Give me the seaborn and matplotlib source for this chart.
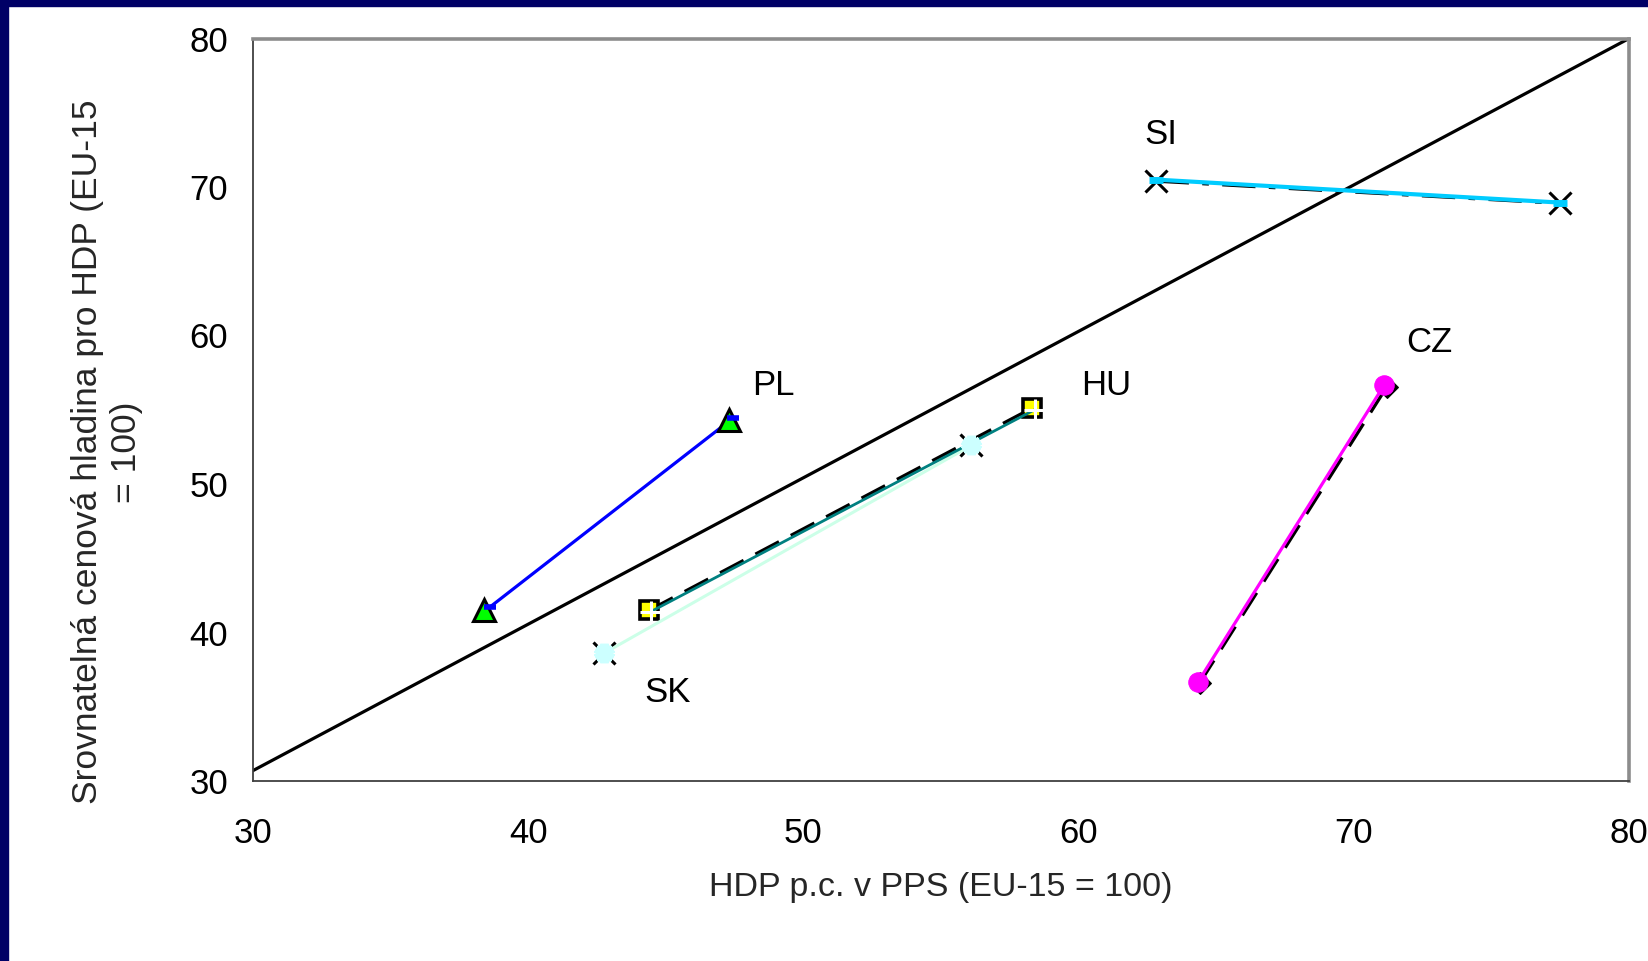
import numpy as np
import pandas as pd
import matplotlib.pyplot as plt
from matplotlib.patches import Rectangle
import seaborn as sns

# data (HDP p.c. in PPS vs. price level, EU-15 = 100)

diag_x = [30, 80]
diag_y = [30.7, 80]

pl_x = [38.4, 47.3]
pl_y = [41.5, 54.3]
pl2_x = [38.6, 47.45]
pl2_y = [41.7, 54.45]

hu_x = [44.4, 58.3]
hu_y = [41.5, 55.1]
hu2_x = [44.45, 58.4]
hu2_y = [41.4, 55.0]

sk_x = [42.75, 56.1]
sk_y = [38.6, 52.6]

si_x = [62.8, 77.5]
si_y = [70.4, 68.9]
si2_x = [62.8, 77.5]
si2_y = [70.5, 68.95]

cz_x = [64.4, 71.2]
cz_y = [36.6, 56.55]
cz2_x = [64.35, 71.1]
cz2_y = [36.7, 56.65]

labels = ['SI', 'PL', 'HU', 'CZ', 'SK']
label_x = [63.0, 48.9, 61.0, 72.75, 45.05]
label_y = [73.55, 56.65, 56.65, 59.55, 35.95]

ticks = [30, 40, 50, 60, 70, 80]

# style

sns.set_style('white')
plt.rcParams['font.family'] = ['Liberation Sans', 'DejaVu Sans']

fig = plt.figure(figsize=(16.48, 9.61), dpi=100)
ax = fig.add_axes([253 / 1648, 1 - 781 / 961, 1376 / 1648, 742.5 / 961])

# navy frame on the left and top
fig.patches.append(Rectangle((0, 0), 8 / 1648, 1, transform=fig.transFigure,
                             color='#000066', zorder=10))
fig.patches.append(Rectangle((0, 1 - 6 / 961), 1, 6 / 961, transform=fig.transFigure,
                             color='#000066', zorder=10))

# diagonal
sns.lineplot(x=diag_x, y=diag_y, ax=ax, color='black', linewidth=2.3, sort=False, zorder=2)

# black dashed base series
sns.lineplot(x=hu_x, y=hu_y, ax=ax, color='black', linewidth=2.4,
             linestyle=(0, (8, 4)), sort=False, zorder=3)
sns.lineplot(x=cz_x, y=cz_y, ax=ax, color='black', linewidth=2.4, linestyle=(0, (8, 4)),
             marker='D', markersize=11, markerfacecolor='black', markeredgecolor='black',
             sort=False, zorder=3)
sns.lineplot(x=si_x, y=si_y, ax=ax, color='black', linewidth=2.4,
             linestyle=(0, (10, 4, 2, 4)), sort=False, zorder=3)

# PL
sns.lineplot(x=pl2_x, y=pl2_y, ax=ax, color='#0000FF', linewidth=2.3, sort=False, zorder=4)
ax.plot(pl_x, pl_y, linestyle='none', marker='^', markersize=16,
        markerfacecolor='#00FF00', markeredgecolor='black', markeredgewidth=2.2, zorder=5)
ax.plot(pl2_x, pl2_y, linestyle='none', marker='_', markersize=9,
        markeredgecolor='#0000FF', markeredgewidth=4, zorder=6)

# HU
ax.plot(hu_x, hu_y, linestyle='none', marker='s', markersize=13.5,
        markerfacecolor='#FFFF00', markeredgecolor='black', markeredgewidth=2.6, zorder=5)
sns.lineplot(x=hu2_x, y=hu2_y, ax=ax, color='#008080', linewidth=2.0,
             marker='+', markersize=16, markeredgewidth=2.2, sort=False, zorder=6)

# SK
ax.plot(sk_x, sk_y, linestyle='none', marker='x', markersize=16,
        markeredgecolor='black', markeredgewidth=2.2, zorder=4)
sns.lineplot(x=sk_x, y=sk_y, ax=ax, color='#CCFFE8', linewidth=2.2, sort=False, zorder=5)
ax.plot(sk_x, sk_y, linestyle='none', marker=(6, 2, 0), markersize=14,
        markeredgecolor='#CCFFFF', markeredgewidth=6, zorder=6)

# SI
ax.plot(si_x, si_y, linestyle='none', marker='x', markersize=16,
        markeredgecolor='black', markeredgewidth=2.2, zorder=4)
sns.lineplot(x=si2_x, y=si2_y, ax=ax, color='#00CCFF', linewidth=3.0, sort=False, zorder=5)
ax.plot(si2_x, si2_y, linestyle='none', marker='_', markersize=10,
        markeredgecolor='#00CCFF', markeredgewidth=5, zorder=6)

# CZ
sns.lineplot(x=cz2_x, y=cz2_y, ax=ax, color='#FF00FF', linewidth=2.3,
             marker='o', markersize=14, markerfacecolor='#FF00FF', markeredgecolor='#FF00FF',
             sort=False, zorder=5)

# country labels
for lab, lx, ly in zip(labels, label_x, label_y):
    ax.text(lx, ly, lab, fontsize=25, ha='center', va='center', color='black')

# axes
ax.set_xlim(30, 80)
ax.set_ylim(30, 80)
ax.set_xticks(ticks)
ax.set_yticks(ticks)
ax.tick_params(axis='both', direction='out', length=7, width=1.2, color='#333333',
               labelsize=25, labelcolor='black')
ax.tick_params(axis='x', pad=19)
ax.tick_params(axis='y', pad=11)
for side in ['left', 'bottom']:
    ax.spines[side].set_color('#404040')
    ax.spines[side].set_linewidth(1.3)
for side in ['top', 'right']:
    ax.spines[side].set_color('#8C8C8C')
    ax.spines[side].set_linewidth(2.6)

ax.set_xlabel('HDP p.c. v PPS (EU-15 = 100)', fontsize=24.5, labelpad=16)
ax.set_ylabel('')
fig.text(107 / 1648, 1 - 452 / 961, 'Srovnatelná cenová hladina pro HDP (EU-15\n= 100)',
         fontsize=25.5, rotation=90, ha='center', va='center', multialignment='center',
         linespacing=1.2)

plt.savefig('out.png', dpi=100, facecolor='white')
